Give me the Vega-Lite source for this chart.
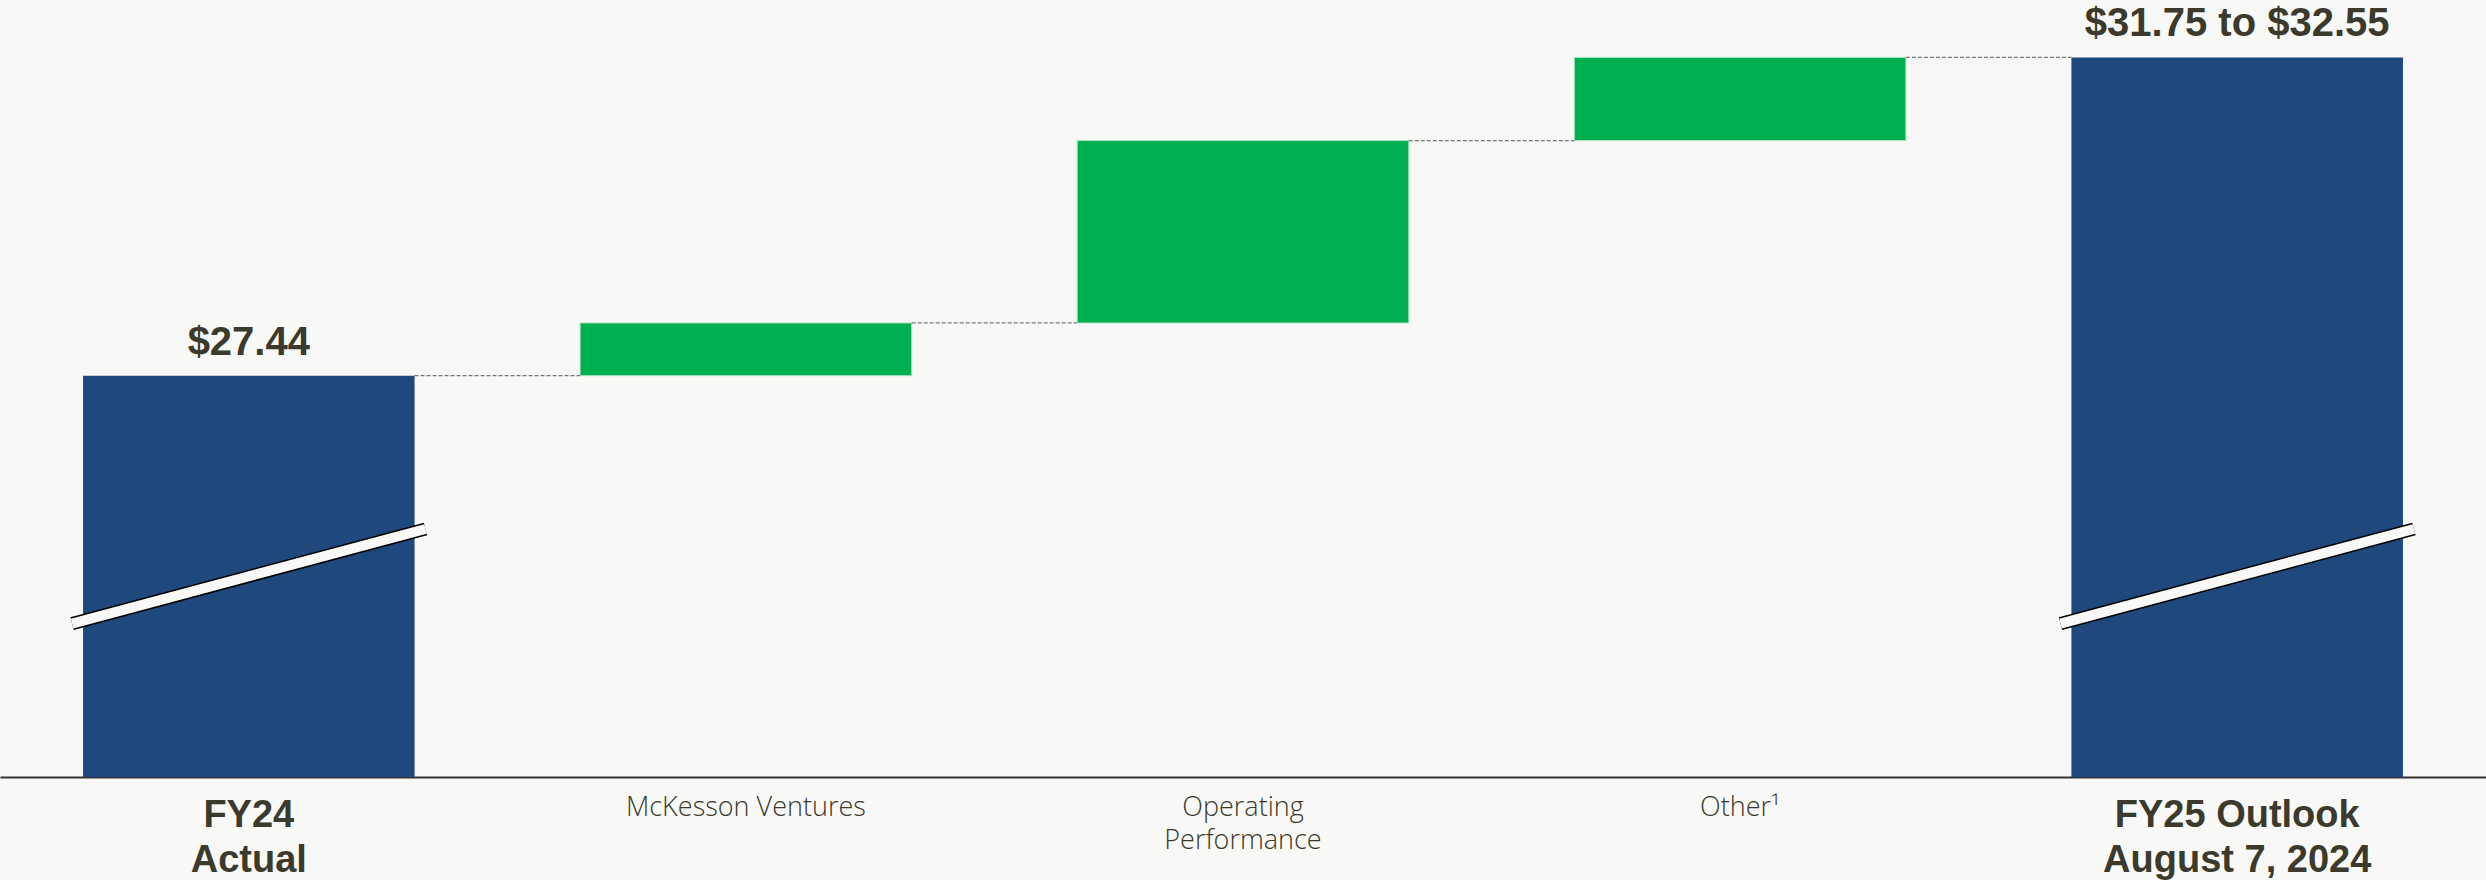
{
  "$schema": "https://vega.github.io/schema/vega-lite/v6.json",
  "width": 2486,
  "height": 777,
  "autosize": {"type": "none"},
  "padding": {"left": 0, "top": 0, "right": 0, "bottom": 103},
  "background": "#f8f8f6",
  "config": {"view": {"stroke": null}},
  "data": {
    "values": [
      {"cat": "FY24", "lines": ["FY24", "Actual"], "start": 0, "end": 27.44, "type": "total", "label": "$27.44", "next": "McKesson Ventures", "b1": 23.77, "b2": 25.17},
      {"cat": "McKesson Ventures", "lines": ["McKesson Ventures"], "start": 27.44, "end": 28.22, "type": "delta", "next": "Operating Performance"},
      {"cat": "Operating Performance", "lines": ["Operating", "Performance"], "start": 28.22, "end": 30.92, "type": "delta", "next": "Other"},
      {"cat": "Other", "lines": ["Other¹"], "start": 30.92, "end": 32.15, "type": "delta", "next": "FY25 Outlook"},
      {"cat": "FY25 Outlook", "lines": ["FY25 Outlook", "August 7, 2024"], "start": 0, "end": 32.15, "type": "total", "label": "$31.75 to $32.55", "b1": 23.77, "b2": 25.17}
    ]
  },
  "encoding": {
    "x": {
      "field": "cat",
      "type": "nominal",
      "scale": {
        "domain": ["FY24", "McKesson Ventures", "Operating Performance", "Other", "FY25 Outlook"],
        "paddingInner": 0.333,
        "paddingOuter": 0.167
      },
      "axis": {
        "title": null,
        "ticks": false,
        "labels": false,
        "domainColor": "#333333",
        "domainWidth": 2
      }
    }
  },
  "layer": [
    {
      "transform": [{"filter": "datum.type == 'total'"}],
      "mark": {"type": "bar", "color": "#1f497d"},
      "encoding": {
        "y": {"field": "start", "type": "quantitative", "scale": {"domain": [21.5, 33.0], "clamp": true, "nice": false, "zero": false}, "axis": null},
        "y2": {"field": "end"}
      }
    },
    {
      "transform": [{"filter": "datum.type == 'delta'"}],
      "mark": {"type": "bar", "color": "#00af50", "stroke": "#a8e2c0", "strokeWidth": 1},
      "encoding": {
        "y": {"field": "start", "type": "quantitative"},
        "y2": {"field": "end"}
      }
    },
    {
      "transform": [{"filter": "datum.next != null"}],
      "mark": {"type": "rule", "color": "#777777", "strokeWidth": 1.2, "strokeDash": [4, 2]},
      "encoding": {
        "x": {"field": "cat", "type": "nominal", "bandPosition": 1},
        "x2": {"field": "next", "bandPosition": 0},
        "y": {"field": "end", "type": "quantitative"}
      }
    },
    {
      "transform": [{"filter": "datum.type == 'total'"}],
      "mark": {"type": "rule", "color": "#000000", "strokeWidth": 13, "strokeCap": "butt"},
      "encoding": {
        "x": {"field": "cat", "type": "nominal", "bandPosition": -0.033},
        "x2": {"field": "cat", "bandPosition": 1.033},
        "y": {"field": "b1", "type": "quantitative"},
        "y2": {"field": "b2"}
      }
    },
    {
      "transform": [{"filter": "datum.type == 'total'"}],
      "mark": {"type": "rule", "color": "#f8f8f6", "strokeWidth": 10, "strokeCap": "butt"},
      "encoding": {
        "x": {"field": "cat", "type": "nominal", "bandPosition": -0.033},
        "x2": {"field": "cat", "bandPosition": 1.033},
        "y": {"field": "b1", "type": "quantitative"},
        "y2": {"field": "b2"}
      }
    },
    {
      "transform": [{"filter": "datum.type == 'total'"}],
      "mark": {"type": "text", "font": "Liberation Sans", "fontWeight": "bold", "fontSize": 40, "color": "#3b3a2c", "baseline": "alphabetic", "dy": -21},
      "encoding": {
        "y": {"field": "end", "type": "quantitative"},
        "text": {"field": "label"}
      }
    },
    {
      "transform": [{"filter": "datum.type == 'total'"}],
      "mark": {"type": "text", "font": "Liberation Sans", "fontWeight": "bold", "fontSize": 38, "lineHeight": 45, "color": "#3b3a2c", "baseline": "top", "dy": 20},
      "encoding": {
        "y": {"datum": 21.5},
        "text": {"field": "lines"}
      }
    },
    {
      "transform": [{"filter": "datum.type == 'delta'"}],
      "mark": {"type": "text", "font": "Open Sans", "fontWeight": 300, "fontSize": 27, "lineHeight": 33, "color": "#3b3a2c", "baseline": "top", "dy": 18},
      "encoding": {
        "y": {"datum": 21.5},
        "text": {"field": "lines"}
      }
    }
  ]
}
